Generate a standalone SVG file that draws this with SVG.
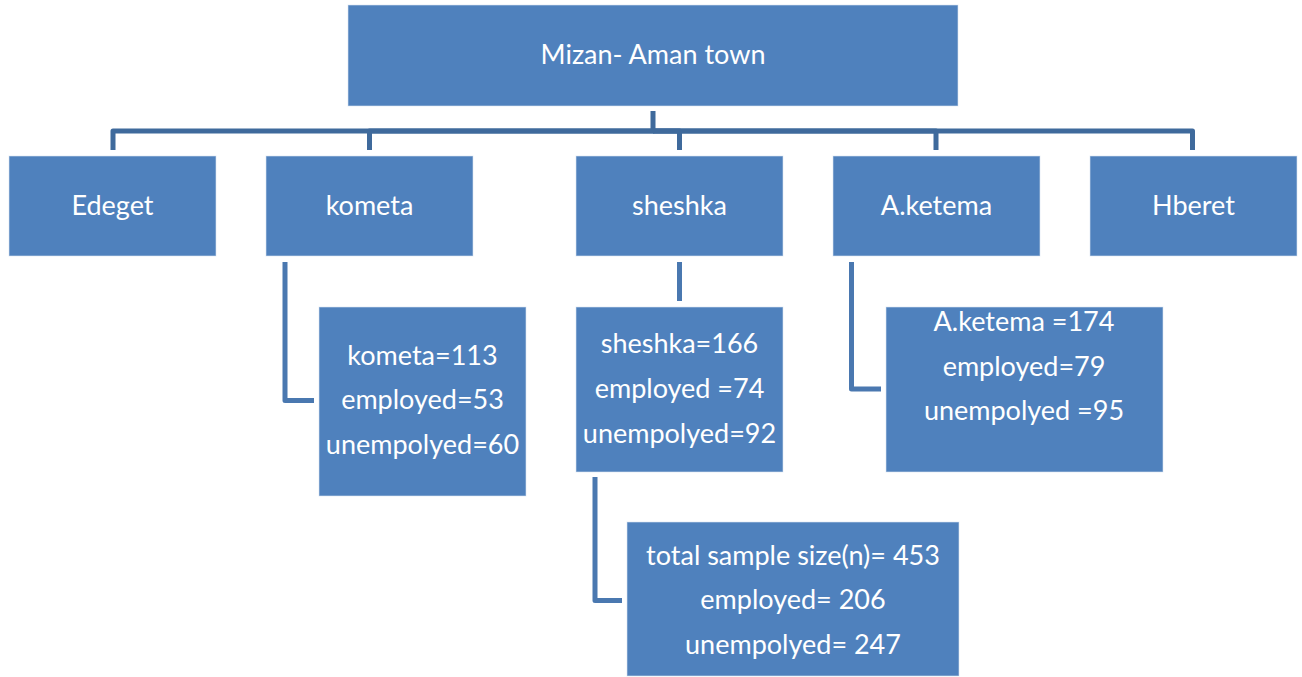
<svg xmlns="http://www.w3.org/2000/svg" width="1302" height="677" viewBox="0 0 1302 677">
<style>
.box{fill:#4F81BD;stroke:#DCE6F2;stroke-width:1;stroke-opacity:0.6}
.t{font-family:Lato,"Liberation Sans",sans-serif;font-size:27px;fill:#FFFFFF;text-anchor:middle}
.bus{fill:none;stroke:#3F6A9C;stroke-width:5;stroke-linejoin:round}
.elb{fill:none;stroke:#4A78B0;stroke-width:5;stroke-linejoin:round}
</style>
<rect width="1302" height="677" fill="#FFFFFF"/>
<g id="connectors">
<path class="bus" d="M653 111 V131 H113 V150"/>
<path class="bus" d="M653 131 H369.5 V150"/>
<path class="bus" d="M653 131 H679.5 V150"/>
<path class="bus" d="M653 131 H936 V150"/>
<path class="bus" d="M653 131 H1192.5 V150"/>
<path class="elb" d="M285 262 V400.5 H314"/>
<path class="elb" d="M679.5 262 V301"/>
<path class="elb" d="M851.5 262 V389 H881"/>
<path class="elb" d="M595 477 V600.5 H622"/>
</g>
<g id="root">
<rect class="box" x="348" y="5" width="610" height="101"/>
<text class="t" x="653" y="64">Mizan- Aman town</text>
</g>
<g id="edeget">
<rect class="box" x="9" y="156" width="207" height="100"/>
<text class="t" x="112.5" y="215">Edeget</text>
</g>
<g id="kometa">
<rect class="box" x="266" y="156" width="207" height="100"/>
<text class="t" x="369.5" y="215">kometa</text>
</g>
<g id="sheshka">
<rect class="box" x="576" y="156" width="207" height="100"/>
<text class="t" x="679.5" y="215">sheshka</text>
</g>
<g id="aketema">
<rect class="box" x="833" y="156" width="207" height="100"/>
<text class="t" x="936.5" y="215">A.ketema</text>
</g>
<g id="hberet">
<rect class="box" x="1090" y="156" width="207" height="100"/>
<text class="t" x="1193.5" y="215">Hberet</text>
</g>
<g id="kometa-detail">
<rect class="box" x="319" y="307" width="207" height="189"/>
<text class="t" x="422.5" y="365">kometa=113</text>
<text class="t" x="422.5" y="409">employed=53</text>
<text class="t" x="422.5" y="454">unempolyed=60</text>
</g>
<g id="sheshka-detail">
<rect class="box" x="576" y="307" width="207" height="165"/>
<text class="t" x="679.5" y="352.7">sheshka=166</text>
<text class="t" x="679.5" y="397.7">employed =74</text>
<text class="t" x="679.5" y="442.7">unempolyed=92</text>
</g>
<g id="aketema-detail">
<rect class="box" x="886" y="307" width="277" height="165"/>
<text class="t" x="1024" y="331">A.ketema =174</text>
<text class="t" x="1024" y="375.7">employed=79</text>
<text class="t" x="1024" y="420">unempolyed =95</text>
</g>
<g id="total">
<rect class="box" x="627" y="522" width="332" height="154"/>
<text class="t" x="793" y="565">total sample size(n)= 453</text>
<text class="t" x="793" y="609">employed= 206</text>
<text class="t" x="793" y="654">unempolyed= 247</text>
</g>
</svg>
